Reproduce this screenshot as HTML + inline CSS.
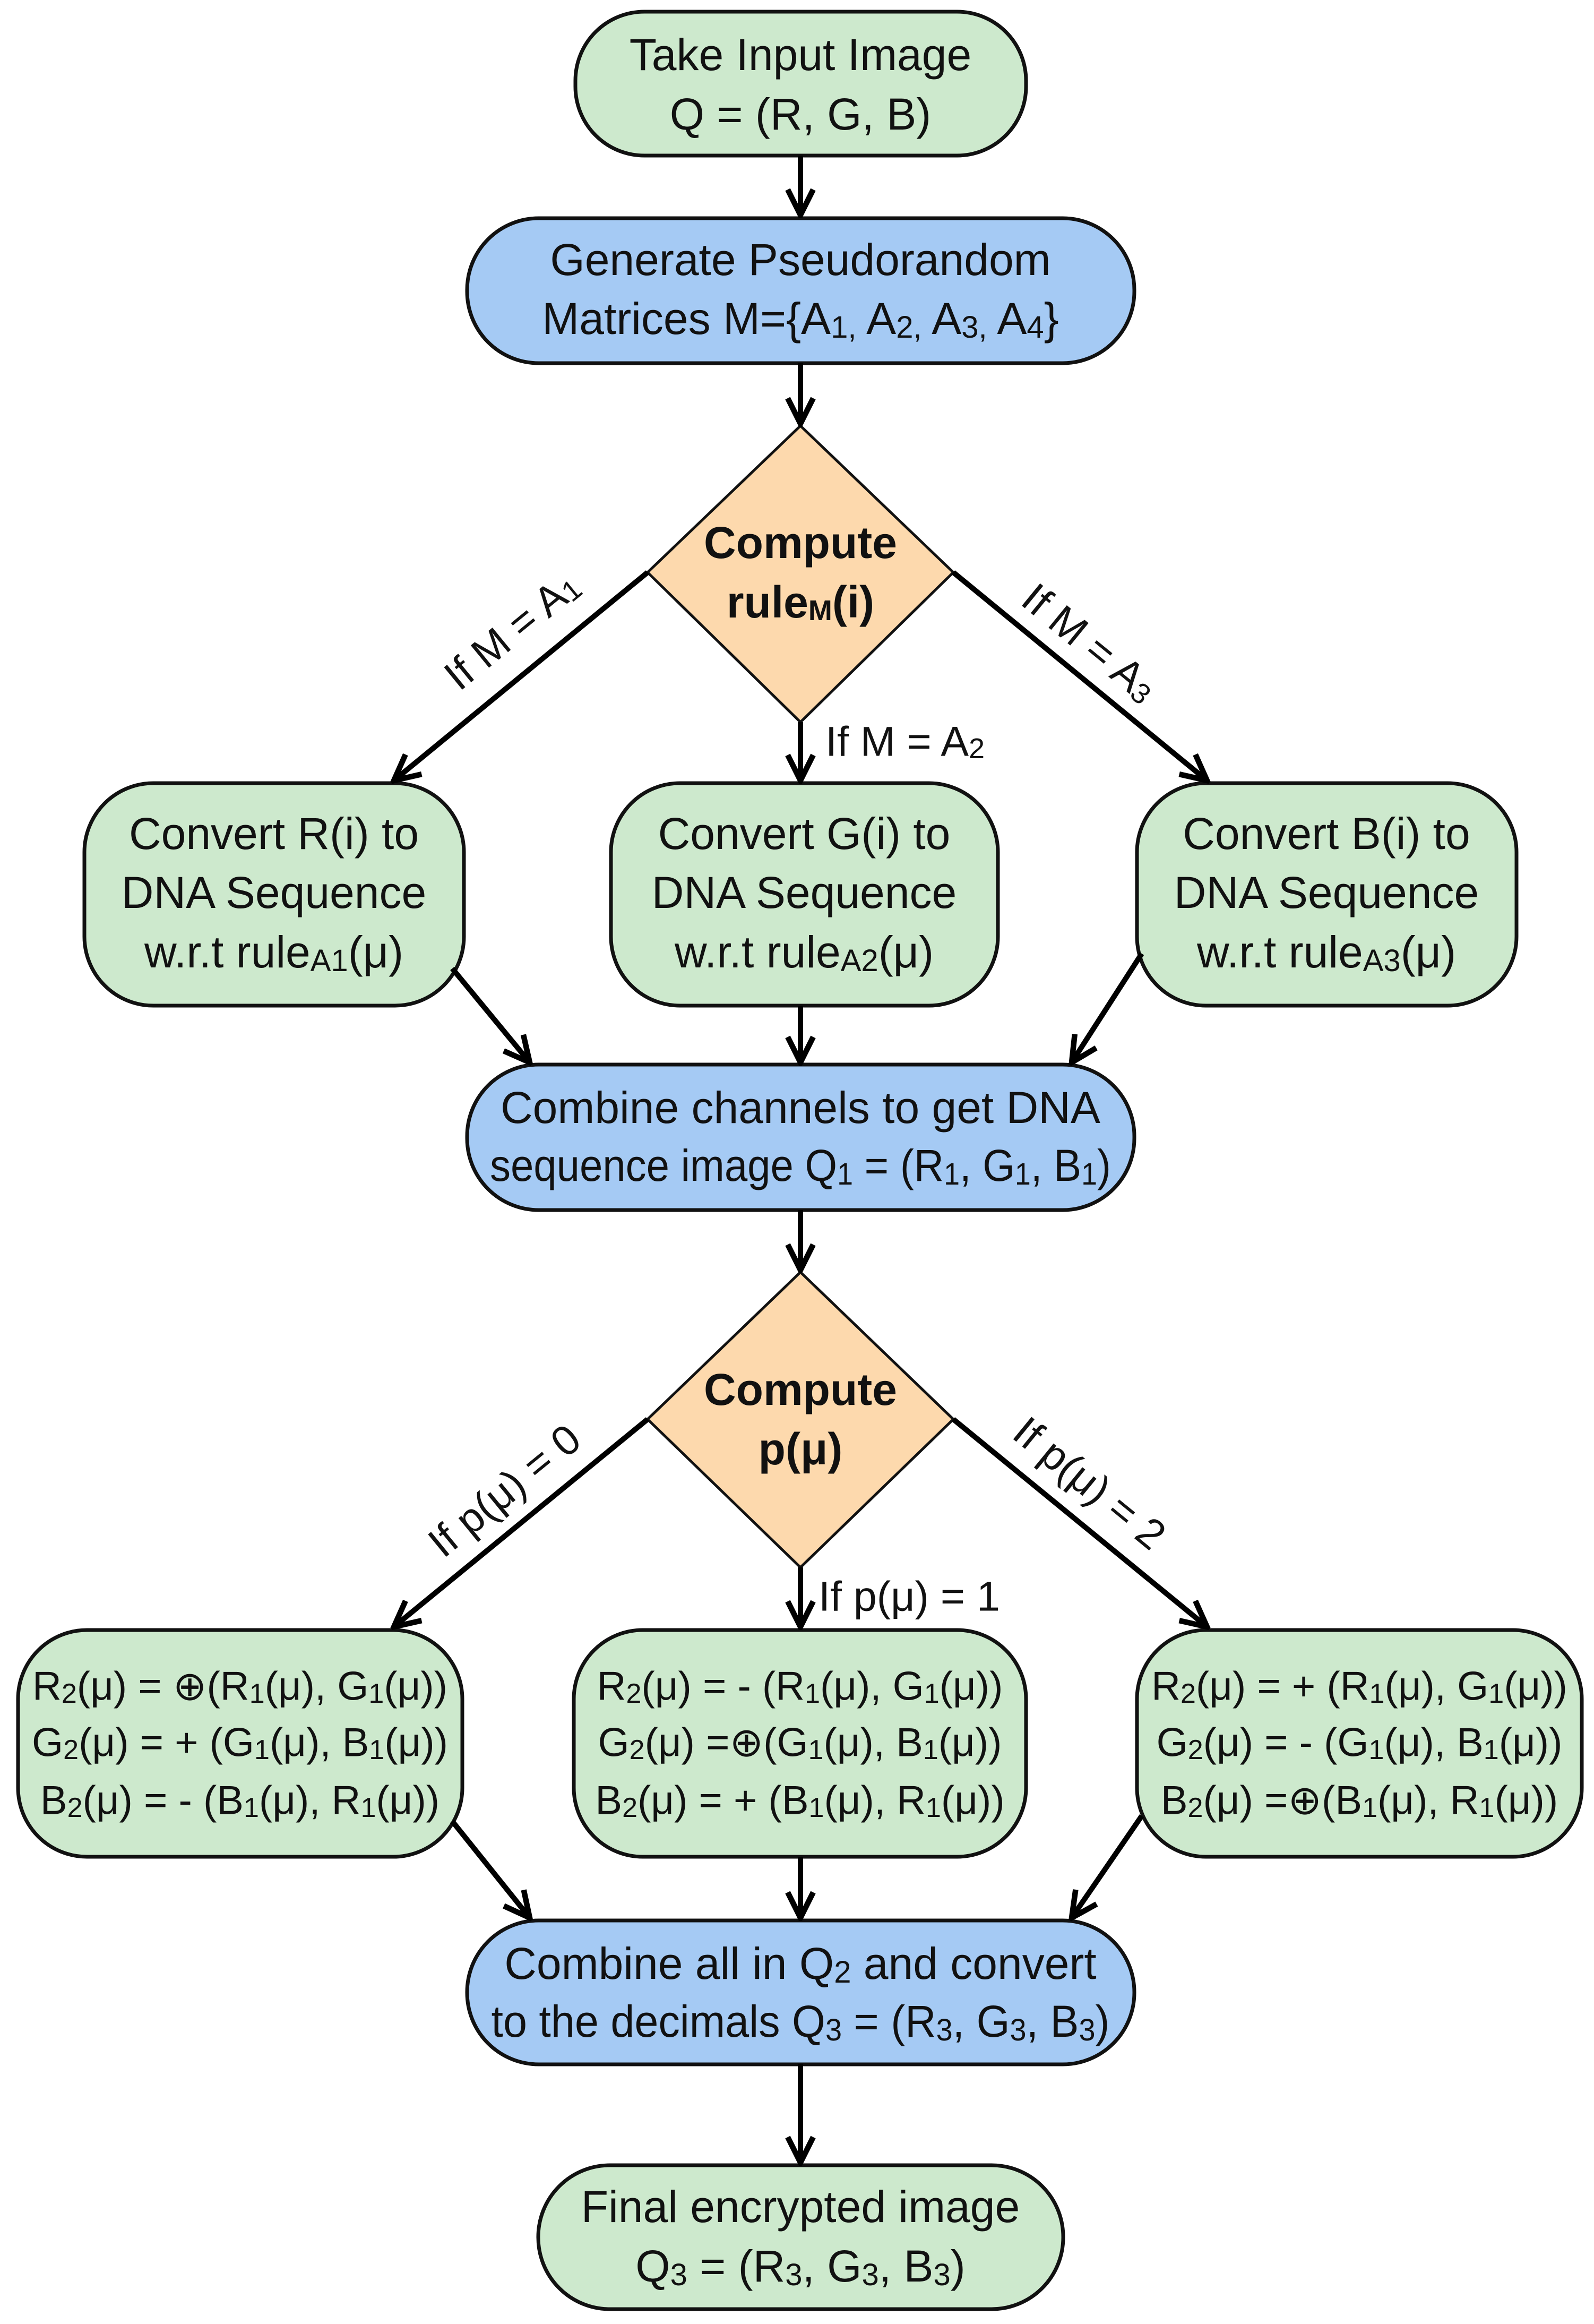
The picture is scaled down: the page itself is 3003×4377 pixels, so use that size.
<!DOCTYPE html>
<html><head><meta charset="utf-8"><style>html,body{margin:0;padding:0;background:#fff}svg{display:block}</style></head>
<body>
<svg width="3003" height="4377" viewBox="0 0 3003 4377" xmlns="http://www.w3.org/2000/svg" font-family="Liberation Sans, sans-serif">
<defs>
<marker id="ah" viewBox="0 0 20 20" refX="18" refY="10" markerWidth="6" markerHeight="6" orient="auto" markerUnits="strokeWidth">
<path d="M2,2 L18,10 L2,18" fill="none" stroke="#000" stroke-width="3.5"/>
</marker>
</defs>
<g stroke="#111" stroke-width="7">
<rect x="1084" y="22" width="849" height="271" rx="130" fill="#cde9cd"/>
<rect x="880" y="411" width="1257" height="273" rx="135" fill="#a5caf4"/>
<polygon points="1508,802 1796,1078 1508,1360 1220,1078" fill="#fdd9ad" stroke-width="5"/>
<rect x="159" y="1475" width="715" height="419" rx="130" fill="#cde9cd"/>
<rect x="1151" y="1475" width="729" height="419" rx="130" fill="#cde9cd"/>
<rect x="2142" y="1475" width="715" height="419" rx="130" fill="#cde9cd"/>
<rect x="880" y="2005" width="1257" height="274" rx="135" fill="#a5caf4"/>
<polygon points="1508,2396 1796,2673 1508,2952 1220,2673" fill="#fdd9ad" stroke-width="5"/>
<rect x="34" y="3070" width="837" height="427" rx="130" fill="#cde9cd"/>
<rect x="1081" y="3070" width="852" height="427" rx="130" fill="#cde9cd"/>
<rect x="2142" y="3070" width="838" height="427" rx="130" fill="#cde9cd"/>
<rect x="880" y="3617" width="1257" height="271" rx="135" fill="#a5caf4"/>
<rect x="1014" y="4078" width="989" height="271" rx="135" fill="#cde9cd"/>
</g>
<g stroke="#000" stroke-width="10" fill="none" marker-end="url(#ah)">
<line x1="1508" y1="293" x2="1508" y2="405"/>
<line x1="1508" y1="684" x2="1508" y2="798"/>
<line x1="1220" y1="1078" x2="742" y2="1470"/>
<line x1="1508" y1="1360" x2="1508" y2="1470"/>
<line x1="1796" y1="1078" x2="2274" y2="1470"/>
<line x1="852" y1="1824" x2="998" y2="2001"/>
<line x1="1508" y1="1894" x2="1508" y2="2001"/>
<line x1="2151" y1="1796" x2="2019" y2="2001"/>
<line x1="1508" y1="2279" x2="1508" y2="2392"/>
<line x1="1220" y1="2673" x2="742" y2="3064"/>
<line x1="1508" y1="2952" x2="1508" y2="3064"/>
<line x1="1796" y1="2673" x2="2274" y2="3064"/>
<line x1="852" y1="3430" x2="998" y2="3612"/>
<line x1="1508" y1="3497" x2="1508" y2="3612"/>
<line x1="2151" y1="3420" x2="2019" y2="3612"/>
<line x1="1508" y1="3888" x2="1508" y2="4073"/>
</g>
<g font-size="84" text-anchor="middle" dominant-baseline="central" fill="#111">
<text x="1508" y="103">Take Input Image</text>
<text x="1508" y="215">Q = (R, G, B)</text>
<text x="1508" y="489">Generate Pseudorandom</text>
<text x="1508" y="600">Matrices M={A<tspan font-size="58" baseline-shift="-16">1,</tspan> A<tspan font-size="58" baseline-shift="-16">2,</tspan> A<tspan font-size="58" baseline-shift="-16">3,</tspan> A<tspan font-size="58" baseline-shift="-16">4</tspan>}</text>
<text x="1508" y="1022" font-weight="bold">Compute</text>
<text x="1508" y="1134" font-weight="bold">rule<tspan font-size="54" baseline-shift="-16">M</tspan>(i)</text>
<text x="516" y="1570">Convert R(i) to</text>
<text x="516" y="1681">DNA Sequence</text>
<text x="516" y="1793">w.r.t rule<tspan font-size="58" baseline-shift="-16">A1</tspan>(μ)</text>
<text x="1515" y="1570">Convert G(i) to</text>
<text x="1515" y="1681">DNA Sequence</text>
<text x="1515" y="1793">w.r.t rule<tspan font-size="58" baseline-shift="-16">A2</tspan>(μ)</text>
<text x="2499" y="1570">Convert B(i) to</text>
<text x="2499" y="1681">DNA Sequence</text>
<text x="2499" y="1793">w.r.t rule<tspan font-size="58" baseline-shift="-16">A3</tspan>(μ)</text>
<text x="1508" y="2086">Combine channels to get DNA</text>
<text x="1508" y="2195" textLength="1170" lengthAdjust="spacingAndGlyphs">sequence image Q<tspan font-size="58" baseline-shift="-16">1</tspan> = (R<tspan font-size="58" baseline-shift="-16">1</tspan>, G<tspan font-size="58" baseline-shift="-16">1</tspan>, B<tspan font-size="58" baseline-shift="-16">1</tspan>)</text>
<text x="1508" y="2617" font-weight="bold">Compute</text>
<text x="1508" y="2729" font-weight="bold">p(μ)</text>
<text x="1508" y="3698">Combine all in Q<tspan font-size="58" baseline-shift="-16">2</tspan>  and convert</text>
<text x="1508" y="3807" textLength="1165" lengthAdjust="spacingAndGlyphs">to the decimals Q<tspan font-size="58" baseline-shift="-16">3</tspan> = (R<tspan font-size="58" baseline-shift="-16">3</tspan>, G<tspan font-size="58" baseline-shift="-16">3</tspan>, B<tspan font-size="58" baseline-shift="-16">3</tspan>)</text>
<text x="1508" y="4156">Final encrypted image</text>
<text x="1508" y="4268">Q<tspan font-size="58" baseline-shift="-16">3</tspan> = (R<tspan font-size="58" baseline-shift="-16">3</tspan>, G<tspan font-size="58" baseline-shift="-16">3</tspan>, B<tspan font-size="58" baseline-shift="-16">3</tspan>)</text>
</g>
<g font-size="76" text-anchor="middle" dominant-baseline="central" fill="#111">
<text x="452" y="3176">R<tspan font-size="52" baseline-shift="-14">2</tspan>(μ) = ⊕(R<tspan font-size="52" baseline-shift="-14">1</tspan>(μ), G<tspan font-size="52" baseline-shift="-14">1</tspan>(μ))</text>
<text x="452" y="3282">G<tspan font-size="52" baseline-shift="-14">2</tspan>(μ) = + (G<tspan font-size="52" baseline-shift="-14">1</tspan>(μ), B<tspan font-size="52" baseline-shift="-14">1</tspan>(μ))</text>
<text x="452" y="3391">B<tspan font-size="52" baseline-shift="-14">2</tspan>(μ) = - (B<tspan font-size="52" baseline-shift="-14">1</tspan>(μ), R<tspan font-size="52" baseline-shift="-14">1</tspan>(μ))</text>
<text x="1507" y="3176">R<tspan font-size="52" baseline-shift="-14">2</tspan>(μ) = - (R<tspan font-size="52" baseline-shift="-14">1</tspan>(μ), G<tspan font-size="52" baseline-shift="-14">1</tspan>(μ))</text>
<text x="1507" y="3282">G<tspan font-size="52" baseline-shift="-14">2</tspan>(μ) =⊕(G<tspan font-size="52" baseline-shift="-14">1</tspan>(μ), B<tspan font-size="52" baseline-shift="-14">1</tspan>(μ))</text>
<text x="1507" y="3391">B<tspan font-size="52" baseline-shift="-14">2</tspan>(μ) = + (B<tspan font-size="52" baseline-shift="-14">1</tspan>(μ), R<tspan font-size="52" baseline-shift="-14">1</tspan>(μ))</text>
<text x="2561" y="3176">R<tspan font-size="52" baseline-shift="-14">2</tspan>(μ) = + (R<tspan font-size="52" baseline-shift="-14">1</tspan>(μ), G<tspan font-size="52" baseline-shift="-14">1</tspan>(μ))</text>
<text x="2561" y="3282">G<tspan font-size="52" baseline-shift="-14">2</tspan>(μ) = - (G<tspan font-size="52" baseline-shift="-14">1</tspan>(μ), B<tspan font-size="52" baseline-shift="-14">1</tspan>(μ))</text>
<text x="2561" y="3391">B<tspan font-size="52" baseline-shift="-14">2</tspan>(μ) =⊕(B<tspan font-size="52" baseline-shift="-14">1</tspan>(μ), R<tspan font-size="52" baseline-shift="-14">1</tspan>(μ))</text>
</g>
<g font-size="79" dominant-baseline="central" fill="#111">
<text x="964" y="1187" text-anchor="middle" transform="rotate(-39.3 964 1187)">If M = A<tspan font-size="54" baseline-shift="-14">1</tspan></text>
<text x="2053" y="1210" text-anchor="middle" transform="rotate(39.3 2053 1210)">If M = A<tspan font-size="54" baseline-shift="-14">3</tspan></text>
<text x="1555" y="1396">If M = A<tspan font-size="54" baseline-shift="-14">2</tspan></text>
<text x="950" y="2807" text-anchor="middle" transform="rotate(-39.3 950 2807)">If p(μ) = 0</text>
<text x="2053" y="2793" text-anchor="middle" transform="rotate(39.3 2053 2793)">If p(μ) = 2</text>
<text x="1542" y="3006">If p(μ) = 1</text>
</g>
</svg>
</body></html>
